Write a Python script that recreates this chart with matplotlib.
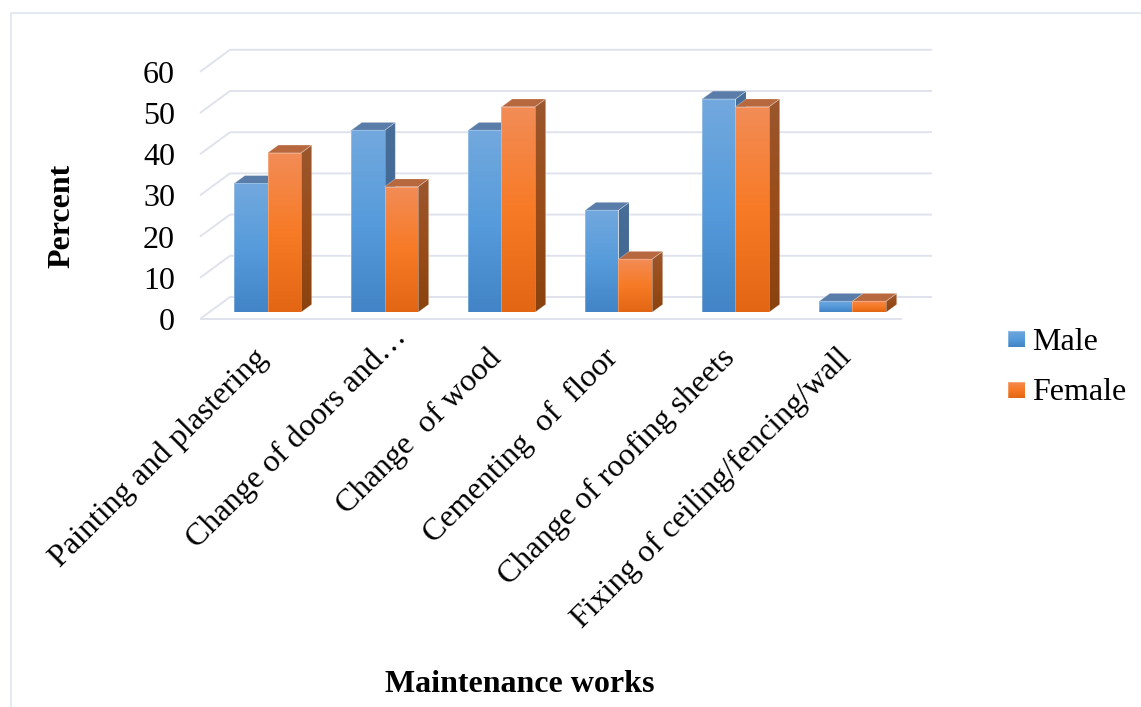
import numpy as np
import matplotlib
matplotlib.use('Agg')
import matplotlib.pyplot as plt
from matplotlib.lines import Line2D
from matplotlib.patches import Polygon
from matplotlib.transforms import IdentityTransform

categories = ['Painting and plastering', 'Change of doors and\u2026', 'Change  of wood',
              'Cementing  of  floor', 'Change of roofing sheets', 'Fixing of ceiling/fencing/wall']
male = [31.3, 44.2, 44.2, 24.8, 51.8, 2.7]
female = [38.7, 30.5, 49.9, 12.9, 49.9, 2.7]
yticks = [0, 10, 20, 30, 40, 50, 60]

W, H = 1141, 707
BAR_W = 0.2855
DEPTH_PX = (30.0, 22.0)
BAR_FRONT = 0.30
BAR_BACK = 0.66
GRID = (0.878, 0.89, 0.93)
FONT_SIZE = 23

# colour stops are top, middle, bottom of each face
BLUE_FRONT = [(0.45, 0.66, 0.87), (0.34, 0.61, 0.86), (0.26, 0.52, 0.78)]
BLUE_SIDE = [(0.28, 0.43, 0.60), (0.26, 0.41, 0.58), (0.23, 0.37, 0.54)]
BLUE_TOP = [(0.35, 0.49, 0.66)] * 3
ORANGE_FRONT = [(0.95, 0.55, 0.34), (0.97, 0.48, 0.15), (0.89, 0.40, 0.08)]
ORANGE_SIDE = [(0.61, 0.34, 0.18), (0.60, 0.30, 0.10), (0.54, 0.26, 0.06)]
ORANGE_TOP = [(0.72, 0.41, 0.25)] * 3

plt.rcParams['font.family'] = 'Liberation Serif'

fig = plt.figure(figsize=(W / 100, H / 100), dpi=100)
ax = fig.add_axes([200 / W, (H - 319) / H, 702 / W, 247.2 / H])
ax.set_xlim(-0.5, 5.5)
ax.set_ylim(0, 60)
ax.autoscale(False)
ax.patch.set_visible(False)
for s in ax.spines.values():
    s.set_visible(False)

draw_order = [1]


def project(x, y, d):
    # oblique projection, d=0 is the front edge of the floor and d=1 the back wall
    px, py = ax.transData.transform((x, y))
    return (px + d * DEPTH_PX[0], py + d * DEPTH_PX[1])


def shaded_poly(verts, stops):
    verts = np.array(verts)
    t = np.linspace(0, 1, 64)
    stops = np.array(stops)
    rgb = np.stack([np.interp(t, [0, 0.5, 1], stops[:, c]) for c in range(3)], axis=-1)
    im = ax.imshow(rgb[:, None, :], origin='upper', aspect='auto', interpolation='bilinear',
                   extent=(verts[:, 0].min(), verts[:, 0].max(), verts[:, 1].min(), verts[:, 1].max()),
                   transform=IdentityTransform(), zorder=draw_order[0])
    im.set_clip_box(fig.bbox)
    im.set_clip_path(Polygon(verts, transform=IdentityTransform()))
    # faint light rim round each face
    ax.add_patch(Polygon(verts, closed=True, fill=False, edgecolor=(1, 1, 1, 0.3), lw=0.6,
                         transform=IdentityTransform(), clip_on=False, zorder=draw_order[0] + 0.5))
    draw_order[0] += 1


def bar3d(x, value, front, side, top):
    x0, x1 = x, x + BAR_W
    shaded_poly([project(x1, 0, BAR_FRONT), project(x1, 0, BAR_BACK),
                 project(x1, value, BAR_BACK), project(x1, value, BAR_FRONT)], side)
    shaded_poly([project(x0, value, BAR_FRONT), project(x1, value, BAR_FRONT),
                 project(x1, value, BAR_BACK), project(x0, value, BAR_BACK)], top)
    shaded_poly([project(x0, 0, BAR_FRONT), project(x1, 0, BAR_FRONT),
                 project(x1, value, BAR_FRONT), project(x0, value, BAR_FRONT)], front)


def wall_line(pts):
    xs, ys = zip(*pts)
    ax.plot(xs, ys, color=GRID, lw=1.4, transform=IdentityTransform(), clip_on=False,
            solid_capstyle='butt', zorder=0.5)


# back wall grid and its return along the left side
for v in yticks:
    wall_line([project(-0.5, v, 0), project(-0.5, v, 1), project(5.5, v, 1)])
wall_line([project(-0.5, 0, 0), project(5.5, 0, 0)])

for i in range(len(categories)):
    bar3d(i - BAR_W, male[i], BLUE_FRONT, BLUE_SIDE, BLUE_TOP)
    bar3d(i, female[i], ORANGE_FRONT, ORANGE_SIDE, ORANGE_TOP)

ax.set_yticks(yticks)
ax.set_xticks([])
ax.tick_params(axis='y', length=0, pad=18, labelsize=FONT_SIZE)
for i, name in enumerate(categories):
    # the truncated label sits further up its tick than the others
    offset = (11.5, -2.5) if name.endswith('\u2026') else (-4.5, -17.5)
    ax.annotate(name, xy=(i, 0), xytext=offset, textcoords='offset points', rotation=45,
                ha='right', va='top', rotation_mode='anchor', fontsize=FONT_SIZE)

fig.text(62 / W, 1 - 216 / H, 'Percent', rotation=90, ha='center', va='center',
         fontsize=FONT_SIZE, fontweight='bold')
fig.text(519.5 / W, 1 - 684 / H, 'Maintenance works', ha='center', va='center',
         fontsize=FONT_SIZE, fontweight='bold')

# legend
for name, stops, yc in [('Male', BLUE_FRONT, 339), ('Female', ORANGE_FRONT, 390)]:
    y0, y1 = H - yc - 8.5, H - yc + 8.5
    shaded_poly([(1008, y0), (1025, y0), (1025, y1), (1008, y1)], stops)
    fig.text(1032 / W, 1 - (yc + 3) / H, name, ha='left', va='center', fontsize=FONT_SIZE)

# frame along the top and left of the chart area
fig.add_artist(Line2D([11 / W, 11 / W, 1], [0, 1 - 13 / H, 1 - 13 / H], color=(0.88, 0.9, 0.94), lw=1.2))

fig.savefig('out.png', dpi=100)
